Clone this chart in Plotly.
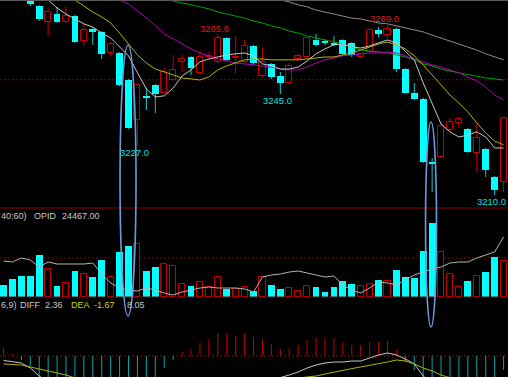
import plotly.graph_objects as go

# ---------------- data ----------------
idx = list(range(57))

opens = [3286.4, 3283.9, 3281.8, 3280.5, 3275.6, 3270.0, 3272.8, 3270.0, 3272.1, 3263.4,
         3267.6, 3266.6, 3259.3, 3259.3, 3249.9, 3236.0, 3244.3, 3248.2, 3245.4, 3249.9,
         3256.2, 3257.9, 3252.3, 3257.9, 3256.2, 3264.5, 3257.5, 3256.2, 3261.7, 3251.3,
         3255.5, 3251.3, 3248.9, 3257.2, 3257.9, 3263.8, 3263.4, 3262.8, 3263.8, 3262.8,
         3257.9, 3259.6, 3267.3, 3265.5, 3267.6, 3253.7, 3245.4, 3243.3, 3221.4, 3223.2,
         3232.5, 3235.0, 3232.9, 3224.6, 3225.9, 3216.2, 3214.5]
highs = [3288.1, 3285.3, 3282.9, 3281.2, 3275.9, 3274.6, 3275.3, 3275.3, 3272.5, 3269.3,
         3268.0, 3266.9, 3263.1, 3259.6, 3250.2, 3248.5, 3247.2, 3248.5, 3254.1, 3258.6,
         3258.6, 3258.2, 3260.3, 3259.6, 3265.6, 3264.8, 3265.2, 3263.8, 3262.1, 3261.0,
         3255.8, 3252.7, 3255.8, 3258.9, 3264.8, 3265.9, 3264.1, 3265.2, 3264.1, 3263.1,
         3259.3, 3267.6, 3268.3, 3269.0, 3268.0, 3254.1, 3248.9, 3243.7, 3222.8, 3235.3,
         3236.7, 3237.1, 3233.2, 3235.3, 3226.3, 3216.6, 3237.1]
lows = [3281.8, 3279.4, 3278.0, 3275.6, 3270.4, 3265.2, 3269.7, 3269.7, 3262.8, 3261.7,
        3262.1, 3257.2, 3258.2, 3247.8, 3232.9, 3227.0, 3239.5, 3238.4, 3245.0, 3249.6,
        3252.7, 3251.6, 3251.6, 3256.9, 3255.8, 3256.5, 3252.3, 3255.8, 3255.1, 3250.9,
        3250.2, 3245.0, 3248.5, 3256.5, 3257.5, 3261.7, 3262.1, 3261.7, 3258.6, 3257.9,
        3257.5, 3259.3, 3264.8, 3264.5, 3252.7, 3245.2, 3243.0, 3221.1, 3211.0, 3222.8,
        3232.2, 3233.2, 3224.6, 3218.0, 3216.2, 3210.0, 3211.0]
closes = [3282.9, 3280.5, 3278.7, 3276.3, 3271.1, 3273.5, 3270.0, 3272.1, 3263.1, 3267.3,
          3266.6, 3258.9, 3262.4, 3248.2, 3233.2, 3248.2, 3243.7, 3245.0, 3252.7, 3253.4,
          3257.2, 3254.1, 3257.9, 3258.2, 3264.5, 3256.9, 3257.9, 3261.7, 3255.8, 3256.2,
          3250.9, 3248.9, 3254.8, 3258.2, 3264.5, 3262.1, 3262.8, 3262.1, 3258.9, 3258.6,
          3258.9, 3267.3, 3265.9, 3267.6, 3253.7, 3245.4, 3243.3, 3221.4, 3220.7, 3233.9,
          3235.3, 3236.4, 3224.9, 3229.8, 3218.6, 3211.7, 3236.7]

N_ = None
ma5 = [N_, N_, N_, N_, 3279.8, 3277.7, 3274.9, 3272.8, 3271.1, 3269.4,
       3268.3, 3266.2, 3264.5, 3261.4, 3258.3, 3252.4, 3246.8, 3244.0, 3244.4, 3247.1,
       3251.3, 3253.4, 3256.2, 3257.2, 3257.9, 3258.6, 3259.0, 3259.3, 3258.3, 3255.5,
       3254.8, 3253.7, 3253.7, 3254.4, 3256.5, 3259.0, 3260.7, 3262.1, 3262.4, 3261.4,
       3261.0, 3261.7, 3262.8, 3263.8, 3262.8, 3260.0, 3256.9, 3248.9, 3241.9, 3234.6,
       3231.9, 3230.1, 3230.8, 3231.9, 3230.1, 3226.3, 3226.3]
ma10 = [N_, N_, N_, N_, N_, N_, N_, 3279.4, 3277.7, 3275.6,
        3273.5, 3271.8, 3269.7, 3266.2, 3262.4, 3258.6, 3255.8, 3253.7, 3252.7, 3251.7,
        3250.6, 3250.3, 3249.9, 3251.0, 3253.4, 3254.8, 3255.8, 3256.9, 3257.2, 3257.2,
        3256.9, 3256.9, 3256.9, 3256.9, 3257.2, 3257.6, 3257.9, 3257.9, 3258.6, 3259.3,
        3260.3, 3261.4, 3262.4, 3263.1, 3262.1, 3260.7, 3258.3, 3255.1, 3251.7, 3248.2,
        3244.7, 3241.9, 3238.8, 3235.0, 3231.5, 3228.7, 3227.4]
ma20 = [N_, N_, N_, N_, N_, N_, N_, N_, N_, N_,
        N_, N_, 3278.7, 3277.7, 3276.3, 3273.9, 3271.5, 3268.7, 3265.9, 3264.2,
        3262.4, 3260.7, 3259.3, 3258.3, 3257.2, 3256.5, 3255.8, 3255.5, 3255.1, 3254.8,
        3254.4, 3253.7, 3253.4, 3253.4, 3254.4, 3255.8, 3256.9, 3257.6, 3258.3, 3258.6,
        3259.0, 3259.3, 3259.3, 3259.6, 3259.3, 3258.3, 3257.2, 3256.2, 3255.1, 3254.4,
        3253.4, 3252.4, 3251.0, 3249.6, 3247.5, 3244.7, 3243.0]
ma30 = [N_, N_, N_, N_, N_, N_, N_, N_, N_, N_,
        N_, N_, N_, N_, N_, N_, N_, N_, 3278.0, 3277.4,
        3276.7, 3276.0, 3275.3, 3274.6, 3273.5, 3272.8, 3272.1, 3271.4, 3270.4, 3269.7,
        3268.7, 3268.0, 3266.9, 3266.2, 3265.2, 3264.5, 3263.8, 3263.1, 3262.4, 3261.4,
        3260.3, 3260.0, 3259.6, 3259.3, 3258.6, 3257.9, 3256.9, 3255.5, 3254.8, 3253.7,
        3253.0, 3252.4, 3251.7, 3251.0, 3250.6, 3250.3, 3249.9]
ma60 = [N_, N_, N_, N_, N_, N_, N_, N_, N_, N_,
        N_, N_, N_, N_, N_, N_, N_, N_, N_, N_,
        N_, N_, N_, N_, N_, N_, N_, N_, N_, N_,
        3278.7, 3277.7, 3277.0, 3276.0, 3275.3, 3274.2, 3273.5, 3272.8, 3272.1, 3271.4,
        3271.1, 3270.4, 3269.7, 3269.4, 3268.7, 3268.0, 3267.3, 3266.6, 3265.5, 3264.5,
        3263.5, 3262.4, 3261.4, 3260.3, 3259.0, 3257.9, 3256.9]

volume = [3600, 5400, 6300, 6300, 12600, 8400, 3300, 4200, 7800, 6900,
          6000, 11100, 6000, 13500, 15300, 15900, 7800, 9000, 9900, 9300,
          3900, 3300, 4500, 3000, 6000, 2400, 2400, 3000, 1800, 6000,
          3600, 2400, 2700, 1800, 3300, 3000, 1500, 3000, 4800, 3900,
          3300, 3900, 5100, 4800, 8100, 6000, 5700, 13800, 22200, 13500,
          6900, 3000, 4800, 6300, 7500, 12000, 10800]
vol_ma = [10800, 10500, 11700, 11100, 9000, 10500, 9900, 9900, 9900, 9900,
          10200, 6900, 4200, 2700, 2100, 1800, 2700, 2100, 1200, 600,
          1500, 2100, 2700, 3000, 2700, 2700, 2700, 2400, 1500, 6000,
          6600, 6900, 7500, 7800, 7200, 6600, 6000, 6300, 3600, 2100,
          1200, 2700, 4500, 4200, 3600, 5100, 6600, 7500, 8400, 9000,
          10200, 10500, 10500, 11700, 12600, 13500, 18000]

macd_hist = [4.0, 1.0, -2.0, -5.0, -11.0, -12.5, -14.0, -15.0, -16.0, -17.0,
             -17.5, -17.5, -17.0, -16.0, -15.0, -14.0, -12.5, -11.0, -6.0, -2.0,
             2.0, 3.5, 6.5, 8.5, 11.5, 11.0, 10.0, 11.0, 9.5, 8.5,
             6.0, 3.5, 4.0, 5.5, 8.0, 9.0, 9.0, 9.0, 7.0, 5.5,
             5.5, 7.0, 7.0, 7.5, 3.0, -3.0, -7.0, -11.0, -13.0, -15.0,
             -16.0, -16.5, -16.0, -15.0, -13.5, -11.0, -7.0]
diff = [-2.2, -2.8, -3.5, -6.0, -10.0, -13.0, -15.0, -17.0, -19.0, -21.0,
        -23.0, -25.0, -27.0, -29.0, -30.0, -31.0, -31.0, -30.0, -28.0, -26.0,
        -24.0, -22.0, -20.0, -18.0, -16.0, -15.0, -14.0, -13.5, -11.5, -10.8,
        -11.0, -10.8, -9.5, -8.0, -6.0, -4.5, -3.5, -3.0, -3.0, -2.5,
        -2.5, -1.0, 0.5, 1.5, 0.5, -1.5, -4.0, -10.0, -14.0, -18.0,
        -21.0, -23.0, -25.0, -26.0, -27.0, -28.5, -29.0]
dea = [-4.0, -4.2, -4.5, -5.5, -6.5, -7.5, -8.5, -9.5, -11.0, -12.5,
       -14.0, -15.5, -17.0, -18.5, -20.0, -21.5, -22.5, -23.0, -23.0, -22.5,
       -22.0, -21.0, -20.0, -19.0, -18.0, -17.0, -16.0, -15.0, -14.5, -14.0,
       -13.5, -13.0, -12.0, -11.0, -10.6, -10.0, -9.0, -8.0, -7.0, -6.3,
       -5.5, -4.5, -3.8, -3.0, -2.0, -2.5, -4.0, -6.0, -7.5, -9.5,
       -11.0, -12.5, -14.0, -15.0, -16.0, -16.5, -17.0]

high_labels = [24, 43]
low_labels = [31, 15, 55]

vol_header = ["40:60)", "OPID", "24467.00"]
macd_header = ["6,9)", "DIFF", "2.36", "DEA", "-1.67", "8.05"]

# highlighted candle groups (ellipses): candle-index span and pixel top/bottom
ellipses = [(13.05, 14.84, 45, 316), (47.26, 48.49, 122, 327)]

# ---------------- styling ----------------
W, H = 508, 377
RED = '#C80000'
CYAN = '#00FFFF'
CYAN_W = '#00D0D0'
DARKRED = '#8A0000'
TXT = '#C8C8C8'
FONT = "Liberation Sans, Arial, sans-serif"

main_dom = [1 - 208 / H, 1]
vol_dom = [1 - 297 / H, 1 - 208 / H]
macd_dom = [0, 1 - 297 / H]
x_range = [-3.5 / 8.93, (W - 3.5) / 8.93]

up = [i for i in idx if closes[i] >= opens[i]]
dn = [i for i in idx if closes[i] < opens[i]]

fig = go.Figure()


def wick_xy(ids):
    xs, ys = [], []
    for i in ids:
        top = max(opens[i], closes[i])
        bot = min(opens[i], closes[i])
        xs += [i, i, None, i, i, None]
        ys += [highs[i], top, None, bot, lows[i], None]
    return xs, ys


for ids, col in ((up, RED), (dn, CYAN_W)):
    xs, ys = wick_xy(ids)
    fig.add_trace(go.Scatter(x=xs, y=ys, mode='lines', line=dict(color=col, width=1),
                             hoverinfo='skip', xaxis='x', yaxis='y'))

# candle bodies
fig.add_trace(go.Bar(x=up, base=[opens[i] for i in up],
                     y=[max(closes[i] - opens[i], 0.3) for i in up],
                     width=0.68, marker=dict(color='black', line=dict(color=RED, width=1)),
                     xaxis='x', yaxis='y'))
fig.add_trace(go.Bar(x=dn, base=[closes[i] for i in dn],
                     y=[max(opens[i] - closes[i], 0.3) for i in dn],
                     width=0.76, marker=dict(color=CYAN, line=dict(width=0)),
                     xaxis='x', yaxis='y'))

# moving averages
for vals, col in ((ma60, '#8C8C8C'), (ma30, '#00A000'), (ma20, '#B400B4'),
                  (ma10, '#B4B400'), (ma5, '#C8C8C8')):
    fig.add_trace(go.Scatter(x=idx, y=vals, mode='lines', line=dict(color=col, width=1),
                             connectgaps=False, hoverinfo='skip', xaxis='x', yaxis='y'))

# volume
fig.add_trace(go.Bar(x=up, y=[volume[i] for i in up], width=0.68,
                     marker=dict(color='black', line=dict(color=RED, width=1)),
                     xaxis='x', yaxis='y2'))
fig.add_trace(go.Bar(x=dn, y=[volume[i] for i in dn], width=0.76,
                     marker=dict(color=CYAN, line=dict(width=0)),
                     xaxis='x', yaxis='y2'))
fig.add_trace(go.Scatter(x=idx, y=vol_ma, mode='lines', line=dict(color='#B4B4B4', width=1),
                         hoverinfo='skip', xaxis='x', yaxis='y2'))

# MACD histogram as thin sticks
for sign, col in ((1, '#C00000'), (-1, '#00A8A8')):
    xs, ys = [], []
    for i in idx:
        if macd_hist[i] * sign > 0:
            xs += [i, i, None]
            ys += [0, macd_hist[i], None]
    fig.add_trace(go.Scatter(x=xs, y=ys, mode='lines', line=dict(color=col, width=1),
                             hoverinfo='skip', xaxis='x', yaxis='y3'))
fig.add_trace(go.Scatter(x=idx, y=diff, mode='lines', line=dict(color='#C8C8C8', width=1),
                         hoverinfo='skip', xaxis='x', yaxis='y3'))
fig.add_trace(go.Scatter(x=idx, y=dea, mode='lines', line=dict(color='#B4B400', width=1),
                         hoverinfo='skip', xaxis='x', yaxis='y3'))

# ---------------- annotations ----------------
ann = []
for i in high_labels:
    ann.append(dict(x=i, y=highs[i], xref='x', yref='y', text=f"{highs[i]:.1f}",
                    showarrow=False, yanchor='bottom', xshift=-3, yshift=-1,
                    font=dict(color='#E01818', size=9.5, family=FONT)))
for i in low_labels:
    ann.append(dict(x=i, y=lows[i], xref='x', yref='y', text=f"{lows[i]:.1f}",
                    showarrow=False, yanchor='top', xshift=-3, yshift=1,
                    font=dict(color='#00E0E0', size=9.5, family=FONT)))

vol_x = [0, 33, 61]
for t, px in zip(vol_header, vol_x):
    ann.append(dict(x=px / W, y=1 - 216 / H, xref='paper', yref='paper', text=t,
                    showarrow=False, xanchor='left', yanchor='middle', xshift=-1,
                    font=dict(color=TXT, size=9, family=FONT)))
macd_x = [0, 19, 44, 70, 93, 126]
macd_col = [TXT, TXT, TXT, '#D2D200', '#D2D200', TXT]
for t, px, c in zip(macd_header, macd_x, macd_col):
    ann.append(dict(x=px / W, y=1 - 305 / H, xref='paper', yref='paper', text=t,
                    showarrow=False, xanchor='left', yanchor='middle', xshift=-1,
                    font=dict(color=c, size=9, family=FONT)))

shapes = [
    dict(type='line', xref='paper', yref='paper', x0=0, x1=1, y0=1 - 0.5 / H, y1=1 - 0.5 / H,
         line=dict(color='#5A5A5A', width=1)),
    dict(type='line', xref='paper', yref='paper', x0=0, x1=1, y0=main_dom[0], y1=main_dom[0],
         line=dict(color=DARKRED, width=1)),
    dict(type='line', xref='paper', yref='paper', x0=0, x1=1, y0=vol_dom[0], y1=vol_dom[0],
         line=dict(color=DARKRED, width=1)),
    dict(type='line', xref='paper', yref='y', x0=0, x1=1, y0=3250, y1=3250, layer='below',
         line=dict(color=DARKRED, width=1, dash='2px,2px')),
    dict(type='line', xref='paper', yref='y2', x0=0, x1=1, y0=11700, y1=11700, layer='below',
         line=dict(color=DARKRED, width=1, dash='2px,2px')),
    dict(type='line', xref='paper', yref='y3', x0=0, x1=1, y0=0, y1=0, layer='below',
         line=dict(color=DARKRED, width=1, dash='2px,2px')),
]
for x0, x1, p0, p1 in ellipses:
    shapes.append(dict(type='circle', xref='x', yref='paper', x0=x0, x1=x1,
                       y0=1 - p1 / H, y1=1 - p0 / H, line=dict(color='#6A9BE0', width=1.6)))

fig.update_layout(
    width=W, height=H, margin=dict(l=0, r=0, t=0, b=0),
    paper_bgcolor='black', plot_bgcolor='rgba(0,0,0,0)',
    showlegend=False, barmode='overlay', bargap=0,
    xaxis=dict(range=x_range, visible=False, fixedrange=True),
    yaxis=dict(domain=main_dom, range=[3205.46, 3277.68], visible=False),
    yaxis2=dict(domain=vol_dom, range=[0, 26700], visible=False, anchor='x'),
    yaxis3=dict(domain=macd_dom, range=[-10.5, 29.5], visible=False, anchor='x'),
    annotations=ann, shapes=shapes,
)

fig.write_html("out.html")
